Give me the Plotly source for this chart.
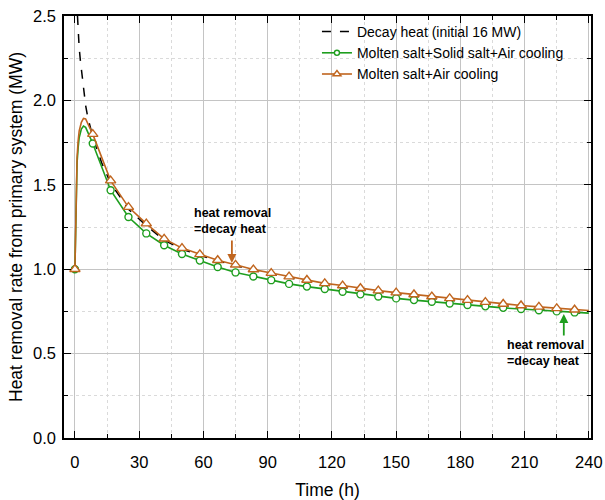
import plotly.graph_objects as go

# time of plotted markers (h), every 30000 s
marker_t = [0, 8.33, 16.67, 25, 33.33, 41.67, 50, 58.33, 66.67, 75, 83.33, 91.67,
            100, 108.33, 116.67, 125, 133.33, 141.67, 150, 158.33, 166.67, 175,
            183.33, 191.67, 200, 208.33, 216.67, 225, 233.33]

orange_marker = [1.00, 1.800, 1.525, 1.368, 1.270, 1.180, 1.125, 1.088, 1.053, 1.026,
                 0.998, 0.977, 0.956, 0.936, 0.916, 0.903, 0.887, 0.873, 0.861, 0.850,
                 0.838, 0.827, 0.817, 0.805, 0.794, 0.785, 0.777, 0.768, 0.760]
green_marker = [1.00, 1.745, 1.468, 1.309, 1.212, 1.142, 1.090, 1.051, 1.013, 0.981,
                0.957, 0.935, 0.913, 0.897, 0.883, 0.866, 0.851, 0.838, 0.827, 0.817,
                0.807, 0.797, 0.788, 0.780, 0.771, 0.764, 0.757, 0.750, 0.744]

# start-up transient (between first two markers) and end of run
rise_t = [0.3, 0.6, 1, 1.5, 2, 3, 4, 5, 6, 7]
orange_rise = [1.30, 1.52, 1.66, 1.76, 1.82, 1.87, 1.893, 1.89, 1.865, 1.835]
green_rise = [1.28, 1.50, 1.63, 1.72, 1.78, 1.83, 1.848, 1.84, 1.81, 1.78]
end_t = 240
orange_end = 0.755
green_end = 0.740

decay_t = [1.2, 1.5, 2, 2.6, 3, 4, 5, 6, 7, 8.33, 10, 12.5, 16.67, 25, 33.33, 41.67,
           50, 58.33, 66.67, 75, 83.33, 91.67, 100, 116.67, 133.33, 150, 166.67,
           183.33, 200, 216.67, 228, 240]
decay_q = [2.50, 2.40, 2.31, 2.23, 2.18, 2.06, 1.97, 1.90, 1.845, 1.785, 1.72, 1.63,
           1.51, 1.355, 1.258, 1.172, 1.118, 1.082, 1.049, 1.022, 0.993, 0.970, 0.948,
           0.908, 0.877, 0.851, 0.828, 0.806, 0.783, 0.762, 0.748, 0.736]

GREEN = "#1e9e1e"
ORANGE = "#c0651e"
FONT = "Liberation Sans, Arial, sans-serif"


def full_curve(marker_vals, rise_vals, end_val):
    t = [marker_t[0]] + rise_t + marker_t[1:] + [end_t]
    q = [marker_vals[0]] + rise_vals + marker_vals[1:] + [end_val]
    return t, q


fig = go.Figure()

fig.add_trace(go.Scatter(
    x=decay_t, y=decay_q, mode="lines",
    line={"color": "black", "width": 1.5, "dash": "dash"},
    name="Decay heat (initial 16 MW)",
))

series = [
    ("Molten salt+Solid salt+Air cooling", GREEN, "circle", 7, green_marker, green_rise, green_end),
    ("Molten salt+Air cooling", ORANGE, "triangle-up", 9, orange_marker, orange_rise, orange_end),
]
for name, col, sym, size, mvals, rvals, evals in series:
    t, q = full_curve(mvals, rvals, evals)
    fig.add_trace(go.Scatter(
        x=t, y=q, mode="lines", line={"color": col, "width": 1.6},
        showlegend=False, hoverinfo="skip",
    ))
    fig.add_trace(go.Scatter(
        x=marker_t, y=mvals, mode="markers",
        marker={"symbol": sym, "size": size, "color": "white", "line": {"width": 1.4, "color": col}},
        showlegend=False,
    ))
    # legend entry only
    fig.add_trace(go.Scatter(
        x=[None], y=[None], mode="lines+markers", name=name,
        line={"color": col, "width": 1.6},
        marker={"symbol": sym, "size": size - 2, "color": "white", "line": {"width": 1.4, "color": col}},
    ))

fig.add_annotation(x=73.3, y=1.037, ax=0, ay=-24, text="", showarrow=True,
                   arrowhead=2, arrowsize=1, arrowwidth=1.8, arrowcolor=ORANGE)
fig.add_annotation(x=228.3, y=0.735, ax=0, ay=23, text="", showarrow=True,
                   arrowhead=2, arrowsize=1, arrowwidth=1.8, arrowcolor=GREEN)
fig.add_annotation(x=54.5, y=1.288, text="<b>heat removal<br>=decay heat</b>", showarrow=False,
                   xanchor="left", yanchor="middle", align="left",
                   font={"size": 12.5, "color": "black", "family": FONT})
fig.add_annotation(x=200.8, y=0.505, text="<b>heat removal<br>=decay heat</b>", showarrow=False,
                   xanchor="left", yanchor="middle", align="left",
                   font={"size": 12.5, "color": "black", "family": FONT})

axis_common = dict(
    showline=True, linecolor="black", linewidth=1.5, mirror="ticks",
    ticks="inside", ticklen=7, tickwidth=1.2, tickcolor="black",
    showgrid=True, gridcolor="#c4c4c4", gridwidth=1, automargin=False,
    zeroline=False, ticklabeloverflow="allow",
    tickfont={"size": 16.5, "color": "black", "family": FONT},
)

fig.update_xaxes(
    range=[-5.1, 241], tick0=0, dtick=30, ticklabelstandoff=8,
    title={"text": "Time (h)", "font": {"size": 17.5, "color": "black", "family": FONT},
           "standoff": 16},
    minor={"ticks": "inside", "ticklen": 4, "dtick": 15, "tick0": 0, "showgrid": True,
           "gridcolor": "#dadada", "griddash": "dot", "tickcolor": "black"},
    **axis_common,
)
fig.update_yaxes(
    range=[0, 2.5], tick0=0, dtick=0.5, tickformat=".1f", ticklabelstandoff=3,
    title={"text": "Heat removal rate from primary system (MW)",
           "font": {"size": 17.5, "color": "black", "family": FONT}, "standoff": 6},
    minor={"ticks": "inside", "ticklen": 4, "dtick": 0.25, "tick0": 0, "showgrid": True,
           "gridcolor": "#dadada", "griddash": "dot", "tickcolor": "black"},
    **axis_common,
)

fig.update_layout(
    width=605, height=500,
    margin={"l": 64, "r": 14, "t": 16, "b": 62},
    plot_bgcolor="white", paper_bgcolor="white",
    font={"family": FONT, "color": "black"},
    legend={"x": 0.48, "y": 1.0, "xanchor": "left", "yanchor": "top",
            "bgcolor": "rgba(255,255,255,0)", "font": {"size": 14, "family": FONT},
            "tracegroupgap": 0, "itemwidth": 30},
    showlegend=True,
)

# drop the browser's default body margin so the 605x500 figure fills the page
fig.write_html("out.html", config={"displayModeBar": False},
               post_script="document.body.style.margin = '0';")
